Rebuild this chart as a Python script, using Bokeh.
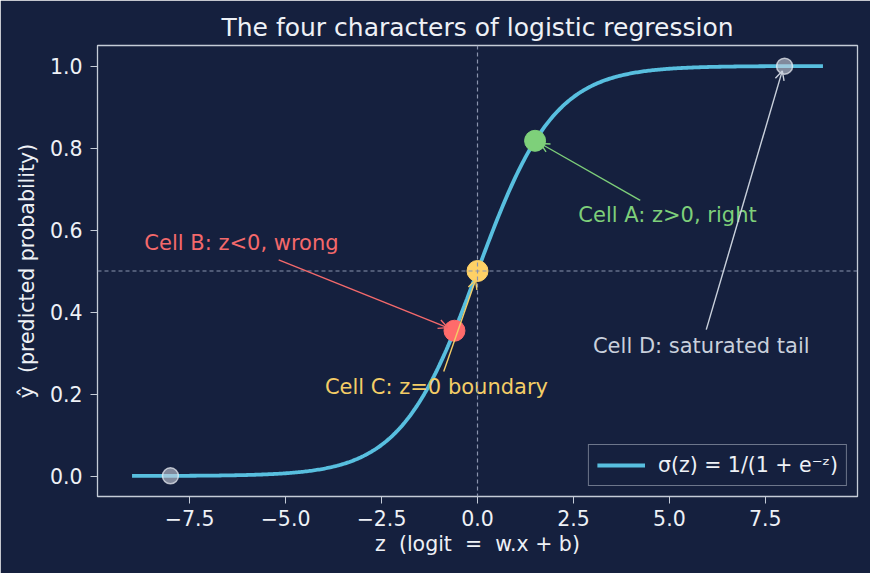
import numpy as np
from bokeh.plotting import figure
from bokeh.models import (Range1d, FixedTicker, CustomJSTickFormatter, Span, Arrow,
                          OpenHead, Legend, LegendItem, ColumnDataSource)
from bokeh.core.properties import value
from bokeh.embed import file_html
from bokeh.resources import INLINE

# ---- data ----
z_min, z_max = -9.0, 9.0
x_ticks = [-7.5, -5.0, -2.5, 0.0, 2.5, 5.0, 7.5]
y_ticks = [0.0, 0.2, 0.4, 0.6, 0.8, 1.0]

# highlighted cells (z positions on the curve)
cell_names = ["A", "B", "C"]
cell_z = [1.5, -0.6, 0.0]
cell_colors = ["#7ed07a", "#ff6b6b", "#ffd166"]
tail_z = [-8.0, 8.0]

# annotation labels: text, text position, arrow tail, arrow head
ann_text = ["Cell A: z>0, right", "Cell B: z<0, wrong", "Cell C: z=0 boundary", "Cell D: saturated tail"]
ann_x = [4.95, -6.15, -1.07, 5.83]
ann_y = [0.636, 0.568, 0.216, 0.316]
ann_colors = ["#7ecf7a", "#f4696b", "#f4cd66", "#c9d0dc"]
arr_x0 = [4.24, -5.18, -0.88, 5.96]
arr_y0 = [0.672, 0.527, 0.255, 0.357]
arr_x1 = [1.64, -0.78, -0.05, 7.94]
arr_y1 = [0.811, 0.362, 0.478, 0.988]

NB = "\u00a0"
BG = "#15203e"
FG = "#eef1f6"
SPINE = "#c5ccd8"
CURVE = "#58bfdf"

def sigmoid(z):
    return 1.0 / (1.0 + np.exp(-np.asarray(z, dtype=float)))

z_curve = np.linspace(z_min, z_max, 500)
y_curve = sigmoid(z_curve)

p = figure(width=870, height=573, output_backend="svg", toolbar_location=None,
           x_range=Range1d(-9.9, 9.9), y_range=Range1d(-0.05, 1.05),
           title="The four characters of logistic regression",
           min_border_left=97, min_border_right=13, min_border_top=45, min_border_bottom=77)
p.background_fill_color = BG
p.border_fill_color = BG
p.outline_line_color = SPINE
p.outline_line_width = 1.3
p.grid.visible = False

p.title.text_color = FG
p.title.text_font = "DejaVu Sans"
p.title.text_font_size = "25px"
p.title.text_font_style = "normal"
p.title.align = "center"
p.title.standoff = 8

for ax in (p.xaxis[0], p.yaxis[0]):
    ax.axis_line_color = SPINE
    ax.major_tick_line_color = SPINE
    ax.major_tick_out = 7
    ax.major_tick_in = 0
    ax.minor_tick_line_color = None
    ax.major_label_text_color = FG
    ax.major_label_text_font = "DejaVu Sans"
    ax.major_label_text_font_size = "20.5px"
    ax.axis_label_text_color = FG
    ax.axis_label_text_font = "DejaVu Sans"
    ax.axis_label_text_font_size = "20.5px"
    ax.axis_label_text_font_style = "normal"
    ax.formatter = CustomJSTickFormatter(code="return tick.toFixed(1).replace('-', '\u2212');")

p.xaxis.ticker = FixedTicker(ticks=x_ticks)
p.yaxis.ticker = FixedTicker(ticks=y_ticks)
p.xaxis.axis_label = f"z{NB}{NB}(logit{NB}{NB}={NB}{NB}w.x{NB}+{NB}b)"
p.yaxis.axis_label = f"ŷ{NB}{NB}(predicted{NB}probability)"
p.xaxis.major_label_standoff = 6
p.yaxis.major_label_standoff = 8
p.xaxis.axis_label_standoff = 3
p.yaxis.axis_label_standoff = 8

# reference lines
p.add_layout(Span(location=0.0, dimension="height", line_color="#8a93ad", line_width=1.2, line_dash="4 3"))
p.add_layout(Span(location=0.5, dimension="width", line_color="#8a93ad", line_width=1.2, line_dash="4 3"))

curve = p.line(z_curve, y_curve, line_color=CURVE, line_width=3.8)

# tail points
p.scatter(tail_z, sigmoid(tail_z), size=16, fill_color="#c9d0dc", fill_alpha=0.6,
          line_color="#eef1f6", line_alpha=0.7, line_width=1.5)

# arrows
for i in range(len(ann_text)):
    p.add_layout(Arrow(x_start=arr_x0[i], y_start=arr_y0[i], x_end=arr_x1[i], y_end=arr_y1[i],
                       line_color=ann_colors[i], line_width=1.4,
                       end=OpenHead(size=9, line_color=ann_colors[i], line_width=1.4)))

# highlighted cells
p.scatter(cell_z, sigmoid(cell_z), size=21, fill_color=cell_colors, line_color=cell_colors)

# annotation texts
src = ColumnDataSource(dict(x=ann_x, y=ann_y, t=ann_text, c=ann_colors))
p.text("x", "y", text="t", source=src, text_color="c", text_font=value("DejaVu Sans"),
       text_font_size="21px", text_align="center", text_baseline="middle")

legend = Legend(items=[LegendItem(label="σ(z) = 1/(1 + e⁻ᶻ)", renderers=[curve])],
                location="bottom_right")
legend.background_fill_color = BG
legend.background_fill_alpha = 0.9
legend.border_line_color = SPINE
legend.border_line_width = 1.3
legend.label_text_color = FG
legend.label_text_font = "DejaVu Sans"
legend.label_text_font_size = "20.5px"
legend.glyph_width = 48
legend.label_standoff = 13
legend.margin = 10
legend.padding = 8
legend.spacing = 0
p.add_layout(legend)

open("out.html", "w").write(file_html(p, INLINE))
